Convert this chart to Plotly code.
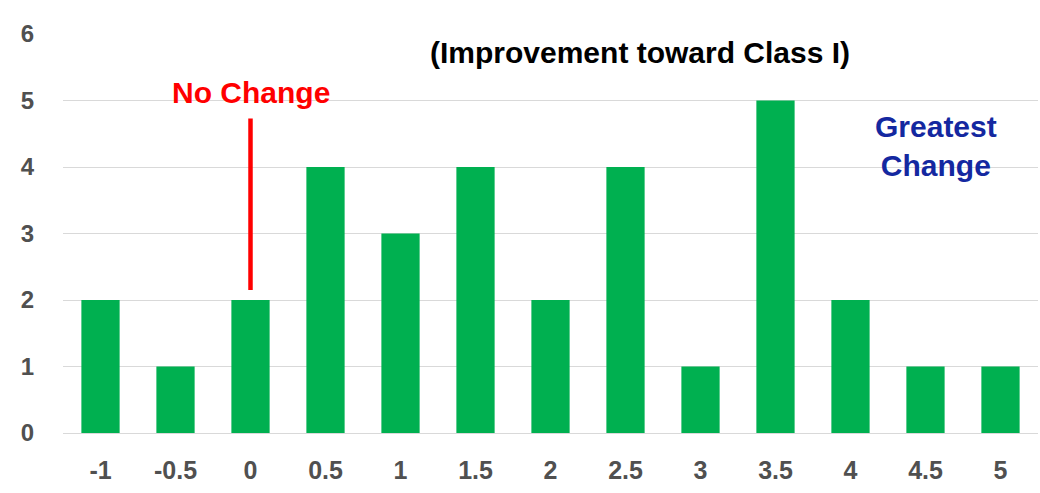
import plotly.graph_objects as go

# Distribution of change scores
categories = ["-1", "-0.5", "0", "0.5", "1", "1.5", "2", "2.5", "3", "3.5", "4", "4.5", "5"]
counts = [2, 1, 2, 4, 3, 4, 2, 4, 1, 5, 2, 1, 1]
y_ticks = [0, 1, 2, 3, 4, 5, 6]

GREEN = "#00b050"
GRID = "#d9d9d9"
TICK = "#505050"
FONT = "Liberation Sans, Arial, sans-serif"

# position index of the "no change" bin on the category axis
zero_idx = categories.index("0")

fig = go.Figure(
    go.Bar(
        x=list(range(len(categories))),
        y=counts,
        marker=dict(color=GREEN, line=dict(width=0)),
        customdata=categories,
        hovertemplate="%{customdata}: %{y}<extra></extra>",
    )
)

fig.update_layout(
    width=1040,
    height=493,
    margin=dict(l=63, r=2, t=34, b=60),
    paper_bgcolor="white",
    plot_bgcolor="white",
    bargap=0.49,
    showlegend=False,
    font=dict(family=FONT),
)

fig.update_xaxes(
    range=[-0.5, len(categories) - 0.5],
    tickvals=list(range(len(categories))),
    ticktext=categories,
    showgrid=False,
    zeroline=False,
    showline=True,
    linecolor=GRID,
    linewidth=1,
    ticks="",
    tickfont=dict(size=25, color=TICK, family=FONT, weight="bold"),
    ticklabelstandoff=15,
    automargin=False,
)

fig.update_yaxes(
    range=[0, 6],
    tickvals=y_ticks,
    showgrid=True,
    gridcolor=GRID,
    gridwidth=1,
    zeroline=False,
    showline=False,
    ticks="",
    tickfont=dict(size=24, color=TICK, family=FONT, weight="bold"),
    ticklabelstandoff=28,
    automargin=False,
)

# Subtitle across the top
fig.add_annotation(
    x=0.592, y=1 - (52 - 34) / 399, xref="paper", yref="paper",
    text="<b>(Improvement toward Class I)</b>",
    showarrow=False,
    font=dict(size=30, color="black", family=FONT),
    xanchor="center", yanchor="middle",
)

# "No Change" marker over the 0 bin
fig.add_annotation(
    x=zero_idx, y=5.12, xref="x", yref="y",
    text="<b>No Change</b>",
    showarrow=False,
    font=dict(size=30, color="#ff0000", family=FONT),
    xanchor="center", yanchor="middle",
)
fig.add_shape(
    type="line", xref="x", yref="y",
    x0=zero_idx, x1=zero_idx, y0=2.15, y1=4.73,
    line=dict(color="#ff0000", width=4.5),
)

# "Greatest Change" label at the upper end of the scale
fig.add_annotation(
    x=0.895, y=4.31, xref="paper", yref="y",
    text="<b>Greatest<br>Change</b>",
    showarrow=False,
    font=dict(size=30, color="#1428a0", family=FONT),
    xanchor="center", yanchor="middle",
)

fig.write_html("out.html")
